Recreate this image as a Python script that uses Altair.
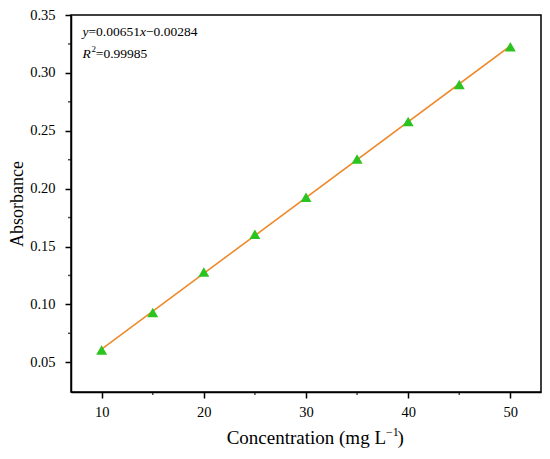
import altair as alt
import pandas as pd

# data
concentration = [10, 15, 20, 25, 30, 35, 40, 45, 50]
absorbance = [0.0605, 0.0930, 0.1280, 0.1605, 0.1925, 0.2255, 0.2580, 0.2900, 0.3225]

x_major = [10, 20, 30, 40, 50]
x_minor = [15, 25, 35, 45]
y_major = [0.05, 0.10, 0.15, 0.20, 0.25, 0.30, 0.35]
y_minor = [0.075, 0.125, 0.175, 0.225, 0.275, 0.325]

eq_parts = ["y", "=", "0.00651", "x", "\u2212", "0.00284"]
eq_italic = [True, False, False, True, False, False]
r2_parts = ["R", "2", "=0.99985"]
r2_italic = [True, False, False]
xtitle_parts = ["Concentration (mg L", "\u22121", ")"]

df = pd.DataFrame({"c": concentration, "a": absorbance})

FONT = "Liberation Serif"
XDOM = [7, 53]
YDOM = [0.0243, 0.35]

xs = alt.Scale(domain=XDOM, nice=False, zero=False)
ys = alt.Scale(domain=YDOM, nice=False, zero=False)

base = alt.Chart(df)

fit = base.transform_regression("c", "a").mark_line(
    color="#EE8A2C", strokeWidth=1.6
).encode(
    x=alt.X("c:Q", scale=xs, axis=alt.Axis(
        values=x_major, title="",
        labelFont=FONT, labelFontSize=14.5, labelColor="black",
        domainColor="black", domainWidth=1.5, tickColor="black", tickWidth=1.5,
        tickSize=6, labelPadding=7, grid=False)),
    y=alt.Y("a:Q", scale=ys, axis=alt.Axis(
        values=y_major, format=".2f", title="Absorbance",
        labelFont=FONT, labelFontSize=14.5, titleFont=FONT, titleFontSize=18,
        titleFontWeight="normal", labelColor="black", titleColor="black",
        domainColor="black", domainWidth=1.5, tickColor="black", tickWidth=1.5,
        tickSize=6, labelPadding=10, titlePadding=3, grid=False)),
)

pts = base.mark_point(
    shape="triangle-up", filled=True, color="#2BC41E", size=120, opacity=1
).encode(
    x=alt.X("c:Q", scale=xs),
    y=alt.Y("a:Q", scale=ys),
)

# minor ticks
xminor = alt.Chart(pd.DataFrame({"v": x_minor})).mark_tick(
    orient="vertical", color="black", thickness=1.5, size=3
).encode(
    x=alt.X("v:Q", scale=xs),
    y=alt.value(378.5),
)
yminor = alt.Chart(pd.DataFrame({"v": y_minor})).mark_tick(
    orient="horizontal", color="black", thickness=1.5, size=3
).encode(
    y=alt.Y("v:Q", scale=ys),
    x=alt.value(-1.5),
)

layers = []
eq_pos = [11.5, 17.5, 25.1, 69.0, 75.0, 82.6]
for t, xp, it in zip(eq_parts, eq_pos, eq_italic):
    layers.append(
        alt.Chart(pd.DataFrame({"t": [t]})).mark_text(
            align="left", baseline="alphabetic", font=FONT, fontSize=13.5,
            fontStyle="italic" if it else "normal", color="black"
        ).encode(text="t:N", x=alt.value(xp), y=alt.value(21))
    )

r2_pos = [11.5, 20.6, 24.8]
r2_y = [43, 37, 43]
r2_size = [13.5, 9, 13.5]
for t, xp, yp, fs, it in zip(r2_parts, r2_pos, r2_y, r2_size, r2_italic):
    layers.append(
        alt.Chart(pd.DataFrame({"t": [t]})).mark_text(
            align="left", baseline="alphabetic", font=FONT, fontSize=fs,
            fontStyle="italic" if it else "normal", color="black"
        ).encode(text="t:N", x=alt.value(xp), y=alt.value(yp))
    )

# x axis title with true superscript
xt_pos = [315.0, 315.0, 326.5]
xt_y = [429, 421, 429]
xt_size = [19, 12, 19]
xt_align = ["right", "left", "left"]
for t, xp, yp, fs, al in zip(xtitle_parts, xt_pos, xt_y, xt_size, xt_align):
    layers.append(
        alt.Chart(pd.DataFrame({"t": [t]})).mark_text(
            align=al, baseline="alphabetic", font=FONT, fontSize=fs,
            color="black"
        ).encode(text="t:N", x=alt.value(xp), y=alt.value(yp))
    )

chart = alt.layer(fit, pts, xminor, yminor, *layers).properties(
    width=470, height=377,
    padding={"left": 63, "top": 7, "right": 1, "bottom": 58},
    autosize=alt.AutoSizeParams(type="none"),
    background="white",
).configure_view(
    stroke="black", strokeWidth=1.5
)

chart.save("out.html", embed_options={"renderer": "svg", "actions": False})
